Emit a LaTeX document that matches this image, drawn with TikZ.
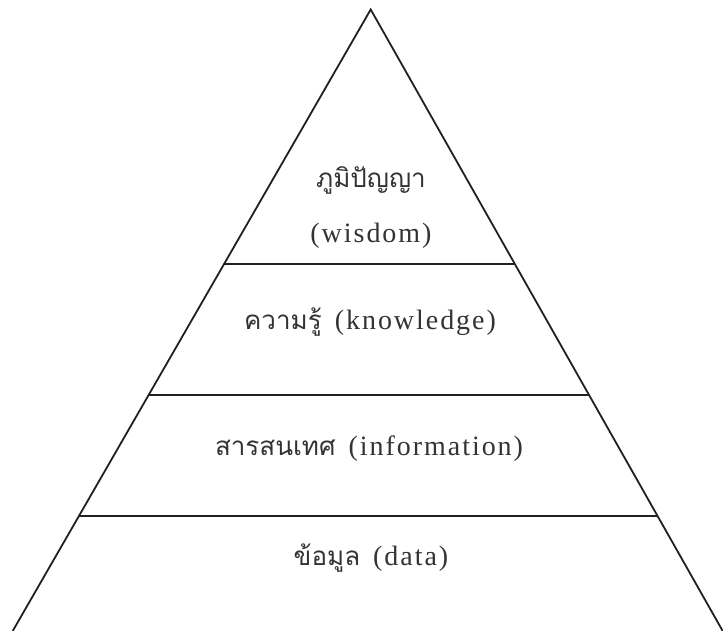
\documentclass[tikz,border=0pt]{standalone}
\usepackage{fontspec}
\setmainfont{Liberation Serif}
\newfontfamily\thaifont[Script=Thai]{Loma}
\newfontfamily\latsp[LetterSpace=7]{Liberation Serif}
\usetikzlibrary{calc}
\definecolor{ink}{HTML}{231F20}
\definecolor{txt}{HTML}{333333}
\newcommand{\thai}[1]{{\fontsize{26}{30}\selectfont\thaifont #1}}
\newcommand{\lat}[1]{{\fontsize{28}{32}\selectfont\latsp #1}}
\tikzset{
  side/.style={draw=ink, line width=1.8pt, line join=miter},
  tier/.style={draw=ink, line width=2.3pt},
  lbl/.style={text=txt, inner sep=0pt, anchor=center},
}
\begin{document}
\begin{tikzpicture}[x=1pt,y=-1pt]
\useasboundingbox (0,0) rectangle (723,631);
\coordinate (apex) at (370.7,9.5);
\coordinate (bl) at (12.7,631);
\coordinate (br) at (722.7,631);
\draw[side] (bl) -- (apex) -- (br);
\coordinate (l1) at ($(apex)!0.41!(bl)$);
\coordinate (r1) at ($(apex)!0.41!(br)$);
\coordinate (l2) at ($(apex)!0.6203!(bl)$);
\coordinate (r2) at ($(apex)!0.6203!(br)$);
\coordinate (l3) at ($(apex)!0.8145!(bl)$);
\coordinate (r3) at ($(apex)!0.8145!(br)$);
\draw[tier] (l1) -- (r1);
\draw[tier] (l2) -- (r2);
\draw[tier] (l3) -- (r3);
\node[lbl] (w1) at (371,180) {\thai{ภูมิปัญญา}};
\node[lbl] (w2) at (371,236) {\lat{(wisdom)}};
\node[lbl] (k) at (370,322) {\thai{ความรู้}\hspace{13pt}\lat{(knowledge)}};
\node[lbl] (i) at (369,449) {\thai{สารสนเทศ}\hspace{13pt}\lat{(information)}};
\node[lbl] (d) at (371,558) {\thai{ข้อมูล}\hspace{13pt}\lat{(data)}};
\end{tikzpicture}
\end{document}
